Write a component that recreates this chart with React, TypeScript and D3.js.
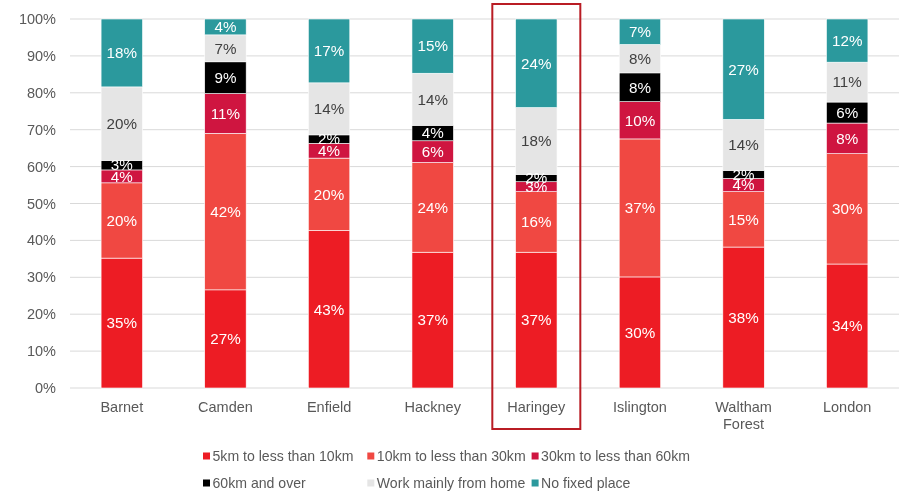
import React, { useEffect, useRef } from 'react';
import * as d3 from 'd3';

const boroughs = ['Barnet', 'Camden', 'Enfield', 'Hackney', 'Haringey', 'Islington', 'Waltham Forest', 'London'];

const seriesNames = [
  '5km to less than 10km',
  '10km to less than 30km',
  '30km to less than 60km',
  '60km and over',
  'Work mainly from home',
  'No fixed place',
];

const seriesColors = ['#ED1C24', '#F04842', '#CF1540', '#000000', '#E5E5E5', '#2B999D'];
const labelColors = ['#ffffff', '#ffffff', '#ffffff', '#ffffff', '#404040', '#ffffff'];

// one array per series, values in % by borough
const km5to10 = [35.2, 26.6, 42.7, 36.8, 36.8, 30.1, 38.2, 33.6];
const km10to30 = [20.4, 42.4, 19.6, 24.3, 16.4, 37.4, 15.0, 29.9];
const km30to60 = [3.5, 10.8, 4.0, 5.9, 2.7, 10.1, 3.6, 8.3];
const km60plus = [2.6, 8.6, 2.3, 4.2, 2.0, 7.8, 2.2, 5.7];
const fromHome = [19.9, 7.3, 14.1, 14.1, 18.1, 7.7, 13.8, 10.8];
const noFixed = [18.4, 4.3, 17.3, 14.7, 24.0, 6.9, 27.2, 11.7];

const yTicks = [0, 10, 20, 30, 40, 50, 60, 70, 80, 90, 100];
const highlighted = 'Haringey';

const App: React.FC = () => {
  const svgRef = useRef<SVGSVGElement>(null);

  useEffect(() => {
    if (!svgRef.current) return;
    d3.select(svgRef.current).selectAll('*').remove();

    const width = 905;
    const height = 491;
    const margin = { top: 19, right: 6, bottom: 103, left: 70 };

    const svg = d3.select(svgRef.current)
      .attr('width', width)
      .attr('height', height)
      .style('font-family', 'Arial, "Liberation Sans", sans-serif');

    const series = [km5to10, km10to30, km30to60, km60plus, fromHome, noFixed];
    const rows = boroughs.map((b, i) => {
      const row: Record<string, number | string> = { borough: b };
      seriesNames.forEach((s, j) => { row[s] = series[j][i]; });
      return row;
    });

    const x = d3.scaleBand<string>()
      .domain(boroughs)
      .range([margin.left, width - margin.right])
      .paddingInner(0.6)
      .paddingOuter(0.3);

    const y = d3.scaleLinear()
      .domain([0, 100])
      .range([height - margin.bottom, margin.top]);

    // Gridlines
    svg.append('g')
      .selectAll('line')
      .data(yTicks)
      .enter()
      .append('line')
      .attr('x1', margin.left)
      .attr('x2', width - margin.right)
      .attr('y1', d => y(d))
      .attr('y2', d => y(d))
      .attr('stroke', '#D9D9D9')
      .attr('stroke-width', 1);

    // Y tick labels
    svg.append('g')
      .selectAll('text')
      .data(yTicks)
      .enter()
      .append('text')
      .attr('x', 56)
      .attr('y', d => y(d))
      .attr('dy', '0.35em')
      .attr('text-anchor', 'end')
      .attr('fill', '#595959')
      .style('font-size', '14.5px')
      .text(d => `${d}%`);

    // Stacked bars
    const stack = d3.stack<Record<string, number | string>>()
      .keys(seriesNames)
      .value((d, key) => d[key] as number);
    const stacked = stack(rows);

    const layers = svg.append('g')
      .selectAll('g')
      .data(stacked)
      .enter()
      .append('g')
      .attr('fill', (_, i) => seriesColors[i]);

    layers.selectAll('rect')
      .data(d => d)
      .enter()
      .append('rect')
      .attr('x', d => x(d.data.borough as string)!)
      .attr('width', x.bandwidth())
      .attr('y', d => y(d[1]))
      .attr('height', d => y(d[0]) - y(d[1]))
      .attr('stroke', '#ffffff')
      .attr('stroke-width', 0.6);

    // Data labels
    stacked.forEach((layer, i) => {
      svg.append('g')
        .selectAll('text')
        .data(layer)
        .enter()
        .append('text')
        .attr('x', d => x(d.data.borough as string)! + x.bandwidth() / 2)
        .attr('y', d => y((d[0] + d[1]) / 2))
        .attr('dy', '0.35em')
        .attr('text-anchor', 'middle')
        .attr('fill', labelColors[i])
        .style('font-size', '15.2px')
        .text(d => `${Math.round(d[1] - d[0])}%`);
    });

    // Category labels
    const cat = svg.append('g')
      .selectAll('text')
      .data(boroughs)
      .enter()
      .append('text')
      .attr('x', d => x(d)! + x.bandwidth() / 2)
      .attr('y', 412)
      .attr('text-anchor', 'middle')
      .attr('fill', '#595959')
      .style('font-size', '14.5px');
    cat.each(function (d) {
      const words = d.split(' ');
      d3.select(this)
        .selectAll('tspan')
        .data(words)
        .enter()
        .append('tspan')
        .attr('x', x(d)! + x.bandwidth() / 2)
        .attr('dy', (_, k) => (k === 0 ? 0 : 16.5))
        .text(w => w);
    });

    // Highlight box
    const hx = x(highlighted)! + x.bandwidth() / 2;
    svg.append('rect')
      .attr('x', hx - 44)
      .attr('y', 4)
      .attr('width', 88)
      .attr('height', 425)
      .attr('fill', 'none')
      .attr('stroke', '#B91C24')
      .attr('stroke-width', 2);

    // Legend
    const legend = svg.append('g')
      .selectAll('g')
      .data(seriesNames)
      .enter()
      .append('g')
      .attr('transform', (_, i) => `translate(${203 + (i % 3) * 164.3}, ${i < 3 ? 456 : 483})`);

    legend.append('rect')
      .attr('x', 0)
      .attr('y', -3.5)
      .attr('width', 7)
      .attr('height', 7)
      .attr('fill', (_, i) => seriesColors[i]);

    legend.append('text')
      .attr('x', 9.5)
      .attr('y', 0)
      .attr('dy', '0.35em')
      .attr('fill', '#595959')
      .style('font-size', '14.1px')
      .text(d => d);
  }, []);

  return (
    <div style={{ position: 'fixed', left: 0, top: 0 }}>
      <svg ref={svgRef} style={{ display: 'block' }}></svg>
    </div>
  );
};

export default App;
